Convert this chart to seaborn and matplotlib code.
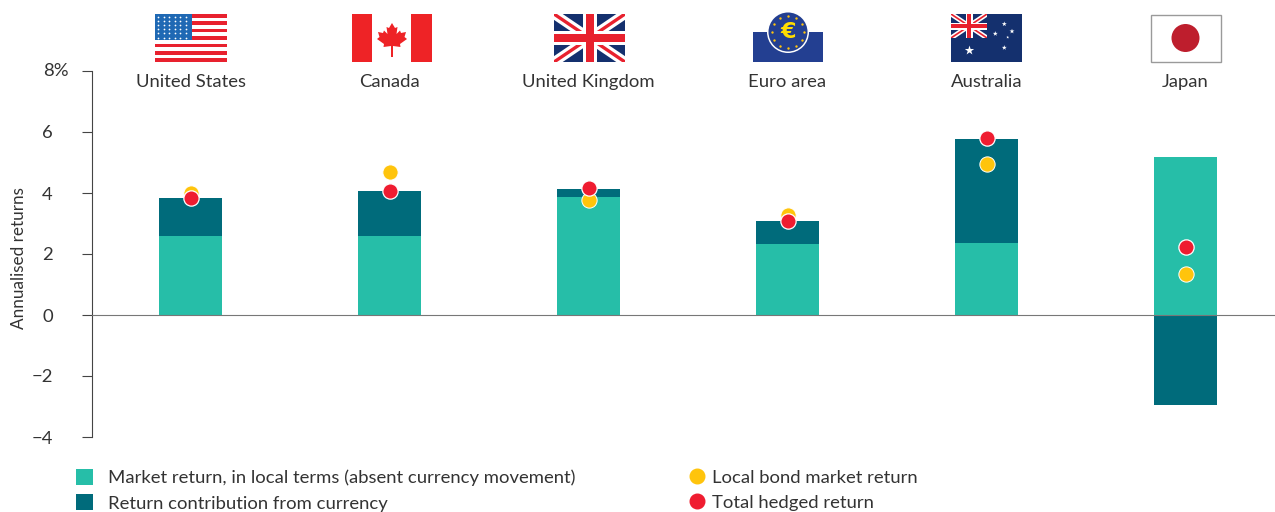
import matplotlib
matplotlib.use("Agg")
import matplotlib.pyplot as plt
import numpy as np
import seaborn as sns
from matplotlib.lines import Line2D
from matplotlib.patches import Circle, Patch, Polygon, Rectangle

countries = ["United States", "Canada", "United Kingdom", "Euro area", "Australia", "Japan"]
market_return = [2.59, 2.59, 3.87, 2.33, 2.36, 5.18]
currency_return = [1.25, 1.48, 0.26, 0.75, 3.41, -2.95]
local_bond = [4.00, 4.69, 3.77, 3.28, 4.95, 1.34]
total_hedged = [3.84, 4.08, 4.16, 3.08, 5.80, 2.23]
y_ticks = [-4, -2, 0, 2, 4, 6, 8]
y_labels = ["\u22124", "\u22122", "0", "2", "4", "6", ""]

TEAL = "#26BEA8"
DARK_TEAL = "#006B7B"
YELLOW = "#FFC40C"
RED = "#EF1C30"
TEXT = "#333333"
NAVY = "#14306E"
FLAG_RED = "#E8212E"
FONT = 13.3
W, H = 1275, 512

sns.set_theme(style="white")
plt.rcParams["font.family"] = ["Lato", "DejaVu Sans"]
plt.rcParams["font.size"] = FONT


def px_axes(fig, left, top, width, height, **kwargs):
    a = fig.add_axes([left / W, 1 - (top + height) / H, width / W, height / H], **kwargs)
    a.set_xlim(0, width)
    a.set_ylim(height, 0)
    a.axis("off")
    return a


def draw_union(a, w, h):
    # w,h = size of the jack in pixels, cross widths scale with h
    k = h / 48
    a.add_patch(Rectangle((0, 0), w, h, color=NAVY, lw=0, zorder=1))
    for ends in ([(0, 0), (w, h)], [(0, h), (w, 0)]):
        xs, ys = zip(*ends)
        a.plot(xs, ys, color="white", lw=7 * k, solid_capstyle="butt", zorder=2)
        a.plot(xs, ys, color=FLAG_RED, lw=2.4 * k, solid_capstyle="butt", zorder=2)
    a.add_patch(Rectangle((w / 2 - 7 * k, 0), 14 * k, h, color="white", lw=0, zorder=3))
    a.add_patch(Rectangle((0, h / 2 - 7 * k), w, 14 * k, color="white", lw=0, zorder=3))
    a.add_patch(Rectangle((w / 2 - 4 * k, 0), 8 * k, h, color=FLAG_RED, lw=0, zorder=4))
    a.add_patch(Rectangle((0, h / 2 - 4 * k), w, 8 * k, color=FLAG_RED, lw=0, zorder=4))


def draw_flags(fig):
    # united states
    a = px_axes(fig, 155, 14, 72, 48)
    for i in range(0, 13, 2):
        a.add_patch(Rectangle((0, i * 48 / 13), 72, 48 / 13, color=FLAG_RED, lw=0))
    a.add_patch(Rectangle((0, 0), 37, 26, color="#1F69B4", lw=0))
    gx, gy = np.meshgrid(np.arange(3, 36, 5.6), np.arange(2.5, 26, 4.2))
    a.scatter(gx.ravel(), gy.ravel(), s=1.6, color="white", lw=0)

    # canada
    a = px_axes(fig, 352, 14, 80, 48)
    a.add_patch(Rectangle((0, 0), 20, 48, color="#EE2326", lw=0))
    a.add_patch(Rectangle((59, 0), 21, 48, color="#EE2326", lw=0))
    half = [(0, 0), (3, 5), (5.5, 4), (4.5, 11), (8, 7.5), (9, 10), (14, 9), (12.5, 14),
            (15, 16), (8, 21), (8.5, 24), (1, 23), (1, 34)]
    leaf = half + [(-x, y) for x, y in half[:0:-1]]
    a.add_patch(Polygon([(x + 40, y + 9) for x, y in leaf], color="#EE2326", lw=0))

    # united kingdom
    a = px_axes(fig, 554, 14, 71, 48)
    draw_union(a, 71, 48)

    # euro area
    a = px_axes(fig, 753, 12, 70, 50)
    a.add_patch(Rectangle((0, 20), 70, 30, color="#233F91", lw=0))
    a.add_patch(Circle((35, 20), 21, color="white", lw=0))
    a.add_patch(Circle((35, 20), 19.5, color="#233F91", lw=0))
    angles = np.deg2rad(np.arange(0, 360, 30))
    a.scatter(35 + 16 * np.cos(angles), 20 + 16 * np.sin(angles), s=3, color=YELLOW, lw=0)
    a.text(35, 20.5, "\u20ac", color="#FFDD00", fontsize=16, fontweight="bold",
           ha="center", va="center", family="DejaVu Sans")

    # australia
    a = px_axes(fig, 951, 14, 71, 48)
    a.add_patch(Rectangle((0, 0), 71, 48, color=NAVY, lw=0))
    inner = px_axes(fig, 951, 14, 36, 24)
    draw_union(inner, 36, 24)
    star_x = [53.3, 44.3, 61, 56.7, 53.3]
    star_y = [10, 19.7, 17.3, 23.3, 33.7]
    a.scatter(star_x, star_y, s=[14, 14, 14, 5, 14], marker="*", color="white", lw=0)
    a.scatter([17.7], [35.7], s=50, marker="*", color="white", lw=0)

    # japan
    a = px_axes(fig, 1150, 14, 71, 48)
    a.add_patch(Rectangle((0.5, 0.5), 70, 47, fc="white", ec="#9A9A9A", lw=1, clip_on=False))
    a.add_patch(Circle((35.5, 24), 14, color="#BE1E2D", lw=0))


fig = plt.figure(figsize=(W / 100, H / 100), dpi=100)
ax = fig.add_axes([92 / W, 1 - 437 / H, (W - 92) / W, (437 - 71) / H])

bar_width = 63 / 199
currency_base = [m if c > 0 else 0 for m, c in zip(market_return, currency_return)]
sns.barplot(x=countries, y=market_return, color=TEAL, saturation=1, width=bar_width,
            order=countries, linewidth=0, ax=ax, zorder=2)
sns.barplot(x=countries, y=currency_return, color=DARK_TEAL, saturation=1, width=bar_width,
            order=countries, bottom=currency_base, linewidth=0, ax=ax, zorder=2)
sns.stripplot(x=countries, y=local_bond, color=YELLOW, jitter=False, size=11, linewidth=0.7,
              edgecolor="white", order=countries, ax=ax, zorder=4)
sns.stripplot(x=countries, y=total_hedged, color=RED, jitter=False, size=11, linewidth=0.9,
              edgecolor="white", order=countries, ax=ax, zorder=5)

ax.set_xlim(-98.5 / 199, (W - 190.5) / 199)
ax.set_ylim(-4, 8)
ax.axhline(0, color="#777777", lw=0.8, zorder=3)
ax.set_xticks([])
ax.set_xlabel("")
ax.set_yticks(y_ticks)
ax.set_yticklabels(y_labels)
ax.tick_params(axis="y", left=True, length=7.2, width=0.8, color="#444444", pad=21,
               labelsize=FONT, labelcolor=TEXT)
sns.despine(ax=ax, top=True, right=True, bottom=True)
ax.spines["left"].set_color("#444444")
ax.spines["left"].set_linewidth(0.8)
ax.patch.set_alpha(0)

ax.annotate("8%", xy=(0, 8), xycoords=ax.get_yaxis_transform(), xytext=(-35.5, 0),
            textcoords="offset points", ha="left", va="center", color=TEXT, fontsize=FONT,
            annotation_clip=False)
for i, name in enumerate(countries):
    ax.text(i, 7.64, name, ha="center", va="center", color=TEXT, fontsize=FONT, clip_on=False)

fig.text(19 / W, 1 - 258 / H, "Annualised returns", rotation=90, ha="center", va="center",
         color=TEXT, fontsize=FONT * 0.93)

draw_flags(fig)

bar_handles = [Patch(color=TEAL, lw=0), Patch(color=DARK_TEAL, lw=0)]
bar_labels = ["Market return, in local terms (absent currency movement)",
              "Return contribution from currency"]
dot_handles = [Line2D([], [], ls="", marker="o", ms=10.5, color=YELLOW),
               Line2D([], [], ls="", marker="o", ms=10.5, color=RED)]
dot_labels = ["Local bond market return", "Total hedged return"]
fig.legend(bar_handles, bar_labels, loc="upper left", bbox_to_anchor=(76 / W, 1 - 469 / H),
           frameon=False, fontsize=FONT, labelcolor=TEXT, borderpad=0, borderaxespad=0,
           handlelength=0.92, handleheight=0.92, handletextpad=0.81, labelspacing=0.45)
fig.legend(dot_handles, dot_labels, loc="upper left", bbox_to_anchor=(688 / W, 1 - 469 / H),
           frameon=False, fontsize=FONT, labelcolor=TEXT, borderpad=0, borderaxespad=0,
           handlelength=0.97, handleheight=0.92, handletextpad=0.32, labelspacing=0.4)

fig.savefig("out.png", dpi=100)
